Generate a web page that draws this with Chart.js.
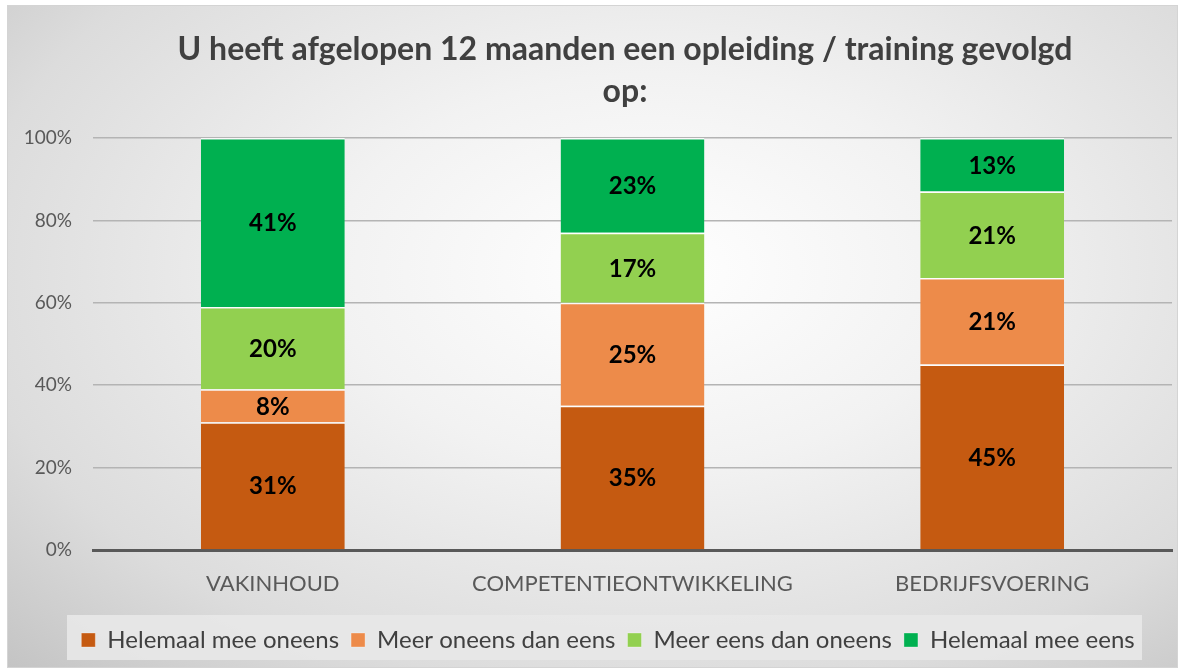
<!DOCTYPE html>
<html>
<head>
<meta charset="utf-8">
<script src="https://cdn.jsdelivr.net/npm/chart.js@4"></script>
<style>
  html, body { margin: 0; padding: 0; background: #fff; }
  #wrap {
    position: absolute; left: 7px; top: 5px;
    width: 1171px; height: 663px;
    border: 1px solid #d4d4d4;
    box-sizing: border-box;
    background: radial-gradient(ellipse at 55% 40%, #ffffff 0%, #f2f2f2 35%, #dcdcdc 75%, #c4c4c4 100%);
  }
  canvas { display: block; }
</style>
</head>
<body>
<div id="wrap"><canvas id="c" width="1169" height="661"></canvas></div>
<script>
// categories and values (percent)
const categories = ['VAKINHOUD', 'COMPETENTIEONTWIKKELING', 'BEDRIJFSVOERING'];
const seriesNames = ['Helemaal mee oneens', 'Meer oneens dan eens', 'Meer eens dan oneens', 'Helemaal mee eens'];
const helemaalOneens = [31, 35, 45];
const meerOneens = [8, 25, 21];
const meerEens = [20, 17, 21];
const helemaalEens = [41, 23, 13];
const yTicks = [0, 20, 40, 60, 80, 100];
const colors = ['#C55A11', '#ED8B4A', '#92D050', '#00B050'];

const values = [helemaalOneens, meerOneens, meerEens, helemaalEens];

const FONT = 'Lato, "Open Sans", sans-serif';

// labels in the middle of each segment
const segLabels = {
    id: 'segLabels',
    afterDatasetsDraw(chart) {
        const ctx = chart.ctx;
        ctx.save();
        ctx.font = 'bold 24px ' + FONT;
        ctx.fillStyle = '#000';
        ctx.textAlign = 'center';
        ctx.textBaseline = 'middle';
        chart.data.datasets.forEach((ds, i) => {
            chart.getDatasetMeta(i).data.forEach((bar, j) => {
                const mid = (bar.y + bar.base) / 2;
                ctx.fillText(ds.data[j] + '%', bar.x, mid + 1);
            });
        });
        ctx.restore();
    }
};

// lighter box behind the legend, and nudge title/legend centres like the original
const legendBox = {
    id: 'legendBox',
    beforeDraw(chart) {
        const t = chart.titleBlock;
        if (t) { t.left = 0; t.right = 1234; }
        const l = chart.legend;
        if (l) { l.left = 36; l.right = 1164; }
        const ctx = chart.ctx;
        ctx.save();
        ctx.fillStyle = 'rgba(232,232,232,0.9)';
        ctx.fillRect(59, 609, 1075, 45);
        ctx.restore();
    }
};

new Chart(document.getElementById('c'), {
    type: 'bar',
    data: {
        labels: categories,
        datasets: seriesNames.map((name, i) => ({
            label: name,
            data: values[i],
            backgroundColor: colors[i],
            borderColor: 'rgba(255,255,255,0.85)',
            borderWidth: { top: 1.5, bottom: 0, left: 0, right: 0 },
            borderSkipped: false,
            barPercentage: 0.4,
            categoryPercentage: 1.0
        }))
    },
    plugins: [legendBox, segLabels],
    options: {
        responsive: false,
        animation: false,
        layout: { padding: { left: 0, right: 5, top: 0, bottom: 5 } },
        plugins: {
            title: {
                display: true,
                text: ['U heeft afgelopen 12 maanden een opleiding / training gevolgd', 'op:'],
                color: '#404040',
                font: { family: FONT, size: 32, weight: 'bold', lineHeight: 1.3125 },
                padding: { top: 23, bottom: 25 }
            },
            legend: {
                position: 'bottom',
                labels: {
                    color: '#404040',
                    font: { family: FONT, size: 24 },
                    boxWidth: 14,
                    boxHeight: 14,
                    padding: 12
                }
            },
            tooltip: { enabled: false }
        },
        scales: {
            x: {
                stacked: true,
                afterFit(axis) { axis.height = 66; },
                grid: { display: false, drawTicks: false },
                border: { display: true, color: '#595959', width: 3 },
                ticks: { color: '#595959', font: { family: FONT, size: 22 }, padding: 21 }
            },
            y: {
                stacked: true,
                min: 0,
                max: 100,
                afterBuildTicks(axis) { axis.ticks = yTicks.map(v => ({ value: v })); },
                afterFit(axis) { axis.width = 85; },
                grid: { color: '#b4b4b4', lineWidth: 1.5, drawTicks: false },
                border: { display: false },
                ticks: {
                    color: '#595959',
                    font: { family: FONT, size: 19 },
                    padding: 21,
                    callback: v => v + '%'
                }
            }
        }
    }
});
</script>
</body>
</html>
